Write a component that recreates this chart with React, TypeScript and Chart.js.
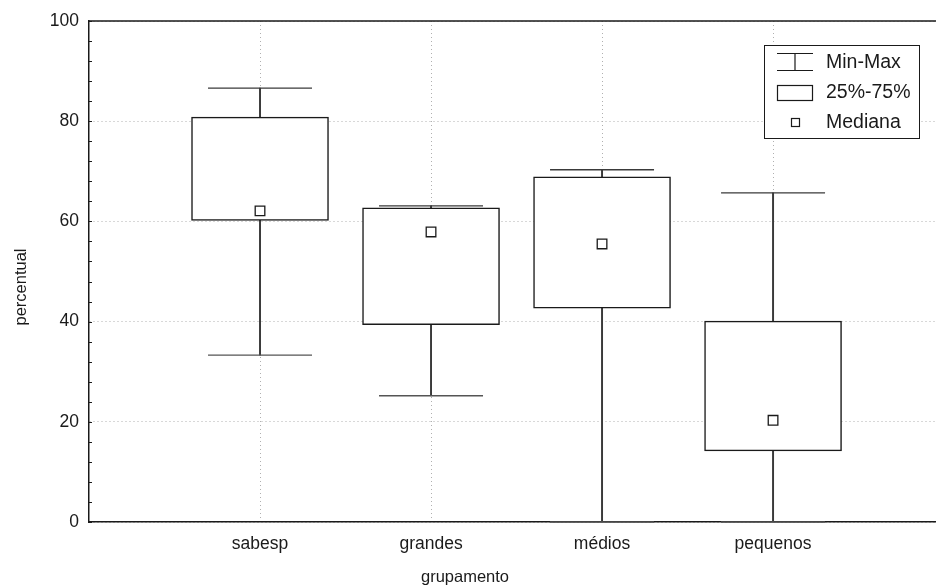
import React, { useEffect, useRef } from "react";
import { Chart, registerables } from "chart.js";

Chart.register(...registerables);

const categories = ["sabesp", "grandes", "médios", "pequenos"];
const minVals = [33.3, 25.2, 0, 0];
const q1Vals = [60.2, 39.4, 42.7, 14.2];
const medianVals = [62.1, 57.9, 55.5, 20.3];
const q3Vals = [80.8, 62.7, 68.9, 40.1];
const maxVals = [86.6, 63.1, 70.3, 65.7];
const yTicks = [0, 20, 40, 60, 80, 100];
const legendLabels = ["Min-Max", "25%-75%", "Mediana"];
const xTitle = "grupamento";
const yTitle = "percentual";

const FONT = "'Liberation Sans', Arial, Helvetica, sans-serif";
const INK = "#1a1a1a";
const WHISK = "#3a3a3a";
const GRID = "#b0b0b0";

const decorPlugin = {
  id: "decor",
  beforeDatasetsDraw(chart: any) {
    const { ctx, chartArea } = chart;
    ctx.save();
    ctx.strokeStyle = INK;
    ctx.lineWidth = 1.5;
    ctx.beginPath();
    ctx.moveTo(chartArea.left, chartArea.top);
    ctx.lineTo(chart.width, chartArea.top);
    ctx.stroke();
    ctx.restore();
  },
  afterDraw(chart: any) {
    const { ctx, chartArea } = chart;
    const y = chart.scales.y;
    ctx.save();
    ctx.strokeStyle = INK;
    ctx.lineWidth = 1;
    for (let v = 0; v <= 100; v += 4) {
      const py = Math.round(y.getPixelForValue(v)) + 0.5;
      ctx.beginPath();
      ctx.moveTo(chartArea.left, py);
      ctx.lineTo(chartArea.left + 3, py);
      ctx.stroke();
    }
    ctx.fillStyle = INK;
    ctx.font = `16.5px ${FONT}`;
    ctx.textAlign = "center";
    ctx.textBaseline = "middle";
    ctx.fillText(xTitle, 465, 577);
    ctx.save();
    ctx.translate(21, 287);
    ctx.rotate(-Math.PI / 2);
    ctx.fillText(yTitle, 0, 0);
    ctx.restore();

    const lx = 764.5, ly = 45.5, lw = 155, lh = 93;
    ctx.fillStyle = "#fff";
    ctx.fillRect(lx, ly, lw, lh);
    ctx.strokeStyle = INK;
    ctx.lineWidth = 1;
    ctx.strokeRect(lx, ly, lw, lh);
    ctx.lineWidth = 1.2;
    ctx.beginPath();
    ctx.moveTo(777, 53.5); ctx.lineTo(813, 53.5);
    ctx.moveTo(777, 70.5); ctx.lineTo(813, 70.5);
    ctx.moveTo(795, 53.5); ctx.lineTo(795, 70.5);
    ctx.stroke();
    ctx.strokeRect(777.5, 85.5, 35, 15);
    ctx.strokeRect(791.5, 118.5, 8, 8);
    ctx.fillStyle = INK;
    ctx.font = `19.5px ${FONT}`;
    ctx.textAlign = "left";
    ctx.textBaseline = "middle";
    const rows = [63, 93, 123];
    legendLabels.forEach((t, i) => ctx.fillText(t, 826, rows[i]));
    ctx.restore();
  },
};

export default function App() {
  const ref = useRef<HTMLCanvasElement>(null);
  useEffect(() => {
    if (!ref.current) return;
    Chart.defaults.font.family = FONT;
    const xs = categories.map((_, i) => i + 1);
    const chart = new Chart(ref.current, {
      type: "bar",
      data: {
        datasets: [
          {
            type: "bar",
            data: xs.map((x, i) => ({ x, y: [minVals[i], maxVals[i]] })) as any,
            backgroundColor: WHISK,
            borderWidth: 0,
            barThickness: 1.3,
            grouped: false,
            order: 5,
          } as any,
          {
            type: "bar",
            data: xs.map((x, i) => ({ x, y: [q1Vals[i], q3Vals[i]] })) as any,
            backgroundColor: "#ffffff",
            borderColor: INK,
            borderWidth: 1.5,
            borderSkipped: false,
            barThickness: 137,
            grouped: false,
            order: 4,
          } as any,
          {
            type: "line",
            data: xs.map((x, i) => ({ x, y: maxVals[i] })),
            showLine: false,
            pointStyle: "line",
            pointRadius: 52,
            pointBorderColor: WHISK,
            pointBorderWidth: 1.4,
            clip: 4,
            order: 3,
          } as any,
          {
            type: "line",
            data: xs.map((x, i) => ({ x, y: minVals[i] })),
            showLine: false,
            pointStyle: "line",
            pointRadius: 52,
            pointBorderColor: "#555",
            pointBorderWidth: 1.4,
            clip: 4,
            order: 2,
          } as any,
          {
            type: "line",
            data: xs.map((x, i) => ({ x, y: medianVals[i] })),
            showLine: false,
            pointStyle: "rect",
            pointRadius: 6.8,
            pointBackgroundColor: "#ffffff",
            pointBorderColor: INK,
            pointBorderWidth: 1.3,
            order: 1,
          } as any,
        ],
      },
      options: {
        responsive: false,
        animation: false,
        layout: { autoPadding: false, padding: { top: 21, right: 1, left: 0, bottom: 0 } },
        plugins: { legend: { display: false }, tooltip: { enabled: false } },
        scales: {
          x: {
            type: "linear",
            min: 0,
            max: 4.947,
            offset: false,
            afterBuildTicks: (s: any) => {
              s.ticks = xs.map((v) => ({ value: v }));
            },
            afterFit: (s: any) => {
              s.height = 66;
            },
            ticks: {
              callback: (v: any) => categories[Number(v) - 1] ?? "",
              color: INK,
              font: { size: 17.5 },
              padding: 12,
              autoSkip: false,
              maxRotation: 0,
            },
            grid: {
              offset: false,
              color: GRID,
              lineWidth: 1,
              drawTicks: false,
            },
            border: { display: true, color: INK, width: 1.5, dash: [1, 3] },
          },
          y: {
            type: "linear",
            min: 0,
            max: 100,
            afterBuildTicks: (s: any) => {
              s.ticks = yTicks.map((v) => ({ value: v }));
            },
            afterFit: (s: any) => {
              s.width = 89;
            },
            ticks: {
              color: INK,
              font: { size: 17.5 },
              padding: 10,
            },
            grid: {
              color: GRID,
              lineWidth: 1,
              drawTicks: false,
            },
            border: { display: true, color: INK, width: 1.5, dash: [1, 3] },
          },
        },
      } as any,
      plugins: [decorPlugin],
    });
    return () => chart.destroy();
  }, []);

  return (
    <div style={{ position: "absolute", left: 0, top: 0, width: 936, height: 588, background: "#fff" }}>
      <canvas ref={ref} width={936} height={588} style={{ display: "block" }} />
    </div>
  );
}
